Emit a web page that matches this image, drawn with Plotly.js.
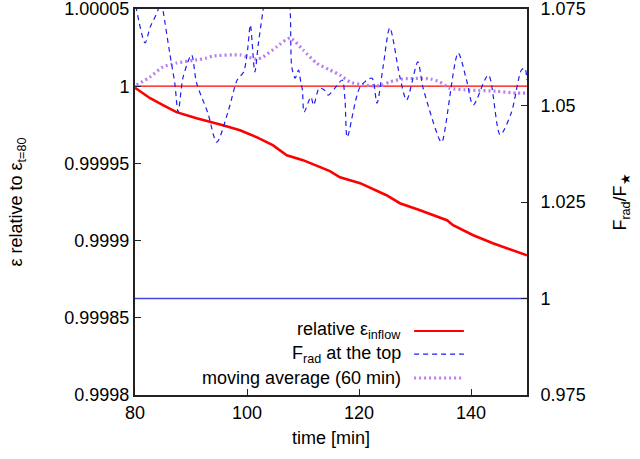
<!DOCTYPE html>
<html>
<head>
<meta charset="utf-8">
<script src="https://cdn.plot.ly/plotly-3.0.1.min.js"></script>
<style>html,body{margin:0;padding:0;background:#fff;}</style>
</head>
<body>
<div id="chart" style="width:640px;height:459px;"></div>
<script>
// relative epsilon_inflow (left axis)
const epsTime = [80.0, 82.7, 85.0, 87.4, 91.0, 93.4, 95.7, 98.75, 101.7, 104.6, 107.1, 110.0, 112.4, 114.8, 116.6, 120.2, 124.9, 127.3, 130.9, 135.7, 136.8, 140.4, 143.9, 147.5, 150.0];
const epsValue = [0.999999, 0.9999922, 0.9999877, 0.9999832, 0.9999793, 0.9999767, 0.9999747, 0.9999715, 0.999967, 0.9999618, 0.9999553, 0.9999521, 0.9999488, 0.999945, 0.999941, 0.9999372, 0.9999294, 0.9999242, 0.9999197, 0.9999132, 0.99991, 0.9999035, 0.9998983, 0.9998938, 0.9998905];

// F_rad at the top (right axis)
const fluxTime = [80.0, 80.3, 81.8, 82.7, 84.1, 84.5, 85.0, 86.2, 87.1, 87.7, 88.6, 90.1, 91.0, 93.0, 94.6, 96.7, 98.25, 99.4, 100.1, 100.6, 101.4, 102.0, 102.8, 104.0, 105.5, 107.0, 107.7, 108.0, 108.6, 109.2, 109.6, 109.9, 110.2, 111.4, 111.9, 112.9, 113.8, 114.5, 115.7, 117.0, 117.5, 117.9, 120.2, 122.3, 123.2, 124.3, 125.5, 127.3, 128.5, 130.5, 131.4, 134.4, 134.8, 137.7, 139.2, 140.4, 143.1, 145.2, 147.2, 149.0, 149.6, 150.0];
const fluxValue = [1.078, 1.0747, 1.0662, 1.0703, 1.0747, 1.079, 1.0747, 1.0636, 1.0558, 1.0483, 1.0574, 1.0631, 1.0558, 1.0481, 1.0405, 1.0488, 1.0566, 1.0587, 1.0644, 1.0709, 1.0587, 1.0657, 1.074, 1.085, 1.09, 1.083, 1.0747, 1.060, 1.0571, 1.0592, 1.0561, 1.054, 1.0483, 1.0522, 1.0501, 1.0545, 1.054, 1.0527, 1.0545, 1.0566, 1.0514, 1.0418, 1.0548, 1.0571, 1.0506, 1.060, 1.0701, 1.0574, 1.0514, 1.0613, 1.0548, 1.0411, 1.0405, 1.0636, 1.0566, 1.0501, 1.0579, 1.0424, 1.0481, 1.0592, 1.0597, 1.0566];

// moving average (60 min) (right axis)
const avgTime = [80.3, 82.7, 85.0, 87.4, 91.0, 92.8, 93.9, 98.75, 101.7, 102.9, 105.3, 107.7, 110.0, 112.4, 114.8, 116.6, 118.4, 120.7, 123.8, 125.5, 127.9, 132.7, 134.4, 136.2, 139.8, 144.6, 148.2, 150.0];
const avgValue = [1.0553, 1.0574, 1.060, 1.061, 1.0618, 1.0623, 1.0628, 1.0631, 1.062, 1.0626, 1.0652, 1.0675, 1.0644, 1.061, 1.0592, 1.0579, 1.0561, 1.0553, 1.0551, 1.0561, 1.0569, 1.0569, 1.0561, 1.0545, 1.054, 1.0537, 1.0532, 1.0532];

// reference lines
const refTime = [80, 150];
const epsRef = [1, 1];
const fluxRef = [1, 1];

// ticks
const xTicks = [80, 100, 120, 140];
const yTicks = [0.9998, 0.99985, 0.9999, 0.99995, 1, 1.00005];
const yTickText = ['0.9998', '0.99985', '0.9999', '0.99995', '1', '1.00005'];
const y2Ticks = [0.975, 1, 1.025, 1.05, 1.075];
const y2TickText = ['0.975', '1', '1.025', '1.05', '1.075'];

const legendLabels = ['relative ε<sub>inflow</sub>', 'F<sub>rad</sub> at the top', 'moving average (60 min)'];

const RED = 'rgb(255,0,0)';
const BLUE = 'rgb(30,30,240)';
const BLUE_REF = 'rgb(70,70,225)';
const PURPLE = 'rgb(185,125,240)';

const traces = [
  {x: refTime, y: fluxRef, yaxis: 'y2', mode: 'lines', line: {color: BLUE_REF, width: 1.5}, showlegend: false, hoverinfo: 'skip'},
  {x: refTime, y: epsRef, yaxis: 'y', mode: 'lines', line: {color: RED, width: 1.3}, showlegend: false, hoverinfo: 'skip'},
  {x: avgTime, y: avgValue, yaxis: 'y2', mode: 'lines', line: {color: PURPLE, width: 3.2, dash: '2px,3px', shape: 'spline', smoothing: 0.6}, showlegend: false},
  {x: fluxTime, y: fluxValue, yaxis: 'y2', mode: 'lines', line: {color: BLUE, width: 1.2, dash: '5px,4px', shape: 'spline', smoothing: 0.8}, showlegend: false},
  {x: epsTime, y: epsValue, yaxis: 'y', mode: 'lines', line: {color: RED, width: 2.6}, showlegend: false}
];

const font = {family: 'Liberation Sans, Arial, sans-serif', size: 18, color: '#000'};

const legRowsY = [0.166, 0.106, 0.044];
const legColors = [RED, BLUE, PURPLE];
const legDash = ['solid', '5px,4px', '2px,3px'];
const legWidth = [2, 1.2, 3.2];

const annotations = legendLabels.map((t, i) => ({
  xref: 'paper', yref: 'paper', x: 0.683, y: legRowsY[i], text: t,
  showarrow: false, xanchor: 'right', yanchor: 'middle', font: font
}));
const shapes = legendLabels.map((t, i) => ({
  type: 'line', xref: 'paper', yref: 'paper', x0: 0.712, x1: 0.839, y0: legRowsY[i], y1: legRowsY[i],
  line: {color: legColors[i], width: legWidth[i], dash: legDash[i]}
}));

const layout = {
  width: 640, height: 459,
  margin: {l: 135, r: 113, t: 9, b: 64},
  paper_bgcolor: '#fff', plot_bgcolor: '#fff',
  font: font,
  showlegend: false,
  xaxis: {
    range: [80, 150], tickvals: xTicks, ticktext: xTicks.map(String),
    ticks: 'inside', ticklen: 6, tickcolor: '#222', tickwidth: 1,
    showline: true, mirror: true, linecolor: '#222', linewidth: 2,
    showgrid: false, zeroline: false,
    title: {text: 'time [min]', font: font, standoff: 10}
  },
  yaxis: {
    range: [0.9998, 1.00005], tickvals: yTicks, ticktext: yTickText,
    ticks: 'inside', ticklen: 6, tickcolor: '#222', tickwidth: 1,
    ticklabeloverflow: 'allow',
    showline: true, linecolor: '#222', linewidth: 2,
    showgrid: false, zeroline: false,
    title: {text: 'ε relative to ε<sub>t=80</sub>', font: font, standoff: 37}
  },
  yaxis2: {
    range: [0.975, 1.075], tickvals: y2Ticks, ticktext: y2TickText,
    overlaying: 'y', side: 'right',
    ticks: 'inside', ticklen: 6, tickcolor: '#222', tickwidth: 1,
    ticklabelstandoff: 8, ticklabeloverflow: 'allow',
    showline: true, linecolor: '#222', linewidth: 2,
    showgrid: false, zeroline: false,
    title: {text: 'F<sub>rad</sub>/F<sub>★</sub>', font: font, standoff: 29}
  },
  annotations: annotations,
  shapes: shapes
};

Plotly.newPlot('chart', traces, layout, {displayModeBar: false, staticPlot: true});
</script>
</body>
</html>
